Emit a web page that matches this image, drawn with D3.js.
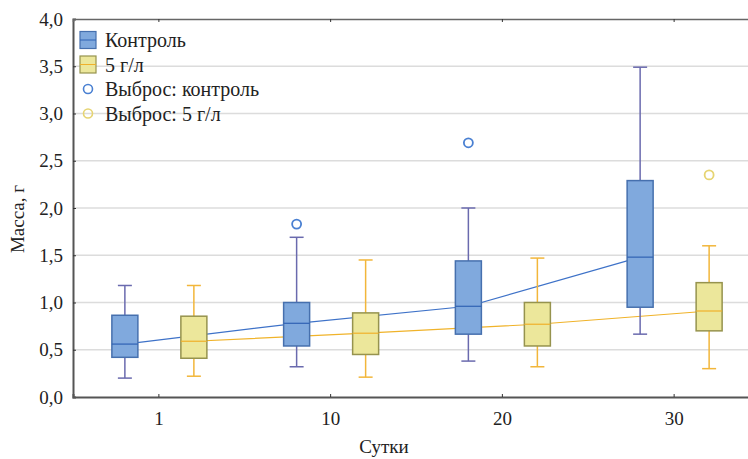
<!DOCTYPE html>
<html>
<head>
<meta charset="utf-8">
<script src="https://cdn.jsdelivr.net/npm/d3@7"></script>
<style>
  body { margin: 0; background: #fff; }
  svg text { font-family: 'Liberation Serif', 'Times New Roman', serif; }
</style>
</head>
<body>
<div id="chart"></div>
<script>
// сутки
const days = ["1", "10", "20", "30"];

// Контроль
const controlMin = [0.20, 0.32, 0.38, 0.665];
const controlQ1 = [0.42, 0.54, 0.665, 0.95];
const controlMed = [0.56, 0.78, 0.96, 1.48];
const controlQ3 = [0.865, 1.00, 1.44, 2.29];
const controlMax = [1.18, 1.69, 2.00, 3.49];
const controlOut = [null, 1.83, 2.69, null];

// 5 г/л
const doseMin = [0.22, 0.21, 0.32, 0.30];
const doseQ1 = [0.41, 0.45, 0.54, 0.70];
const doseMed = [0.59, 0.675, 0.77, 0.91];
const doseQ3 = [0.855, 0.89, 1.00, 1.21];
const doseMax = [1.18, 1.45, 1.47, 1.60];
const doseOut = [null, null, null, 2.35];

const yTicks = [0, 0.5, 1, 1.5, 2, 2.5, 3, 3.5, 4];

const width = 748;
const height = 459;
const margin = { top: 19, right: 0, bottom: 62, left: 73 };
const serif = "Liberation Serif";

const svg = d3.select("#chart").append("svg")
  .attr("width", width)
  .attr("height", height)
  .style("display", "block");

const x = d3.scaleBand()
  .domain(days)
  .range([margin.left, 760]);

const y = d3.scaleLinear()
  .domain([0, 4])
  .range([height - margin.bottom, margin.top]);

const fmt = (d) => d3.format(".1f")(d).replace(".", ",");

// сетка
svg.append("g")
  .selectAll("line")
  .data(yTicks.slice(1, -1))
  .join("line")
  .attr("x1", margin.left)
  .attr("x2", width)
  .attr("y1", (d) => y(d))
  .attr("y2", (d) => y(d))
  .attr("stroke", "#dcdcdc")
  .attr("stroke-width", 1.5);

const series = [
  {
    name: "Контроль", offset: -34,
    min: controlMin, q1: controlQ1, med: controlMed, q3: controlQ3, max: controlMax, out: controlOut,
    fill: "#80a9dd", stroke: "#4670ae", whisker: "#6a6aae", medLine: "#2f62b4", line: "#3e72c8", outlier: "#4a80d2"
  },
  {
    name: "5 г/л", offset: 35,
    min: doseMin, q1: doseQ1, med: doseMed, q3: doseQ3, max: doseMax, out: doseOut,
    fill: "#ece79b", stroke: "#96934e", whisker: "#f2b63a", medLine: "#f0b02a", line: "#f0b32a", outlier: "#e6d472"
  }
];

const boxW = 26;
const capW = 14;

series.forEach((s) => {
  s.cx = (i) => x(days[i]) + x.bandwidth() / 2 + s.offset;
});

// линии медиан (под ящиками)
series.forEach((s) => {
  const line = d3.line()
    .x((d, i) => s.cx(i))
    .y((d) => y(d));
  svg.append("path")
    .attr("d", line(s.med))
    .attr("fill", "none")
    .attr("stroke", s.line)
    .attr("stroke-width", 1.2);
});

series.forEach((s) => {
  const cx = s.cx;
  const g = svg.append("g");
  const idx = d3.range(days.length);

  // усы
  g.selectAll(".wl").data(idx).join("line")
    .attr("x1", cx).attr("x2", cx)
    .attr("y1", (i) => y(s.max[i])).attr("y2", (i) => y(s.min[i]))
    .attr("stroke", s.whisker).attr("stroke-width", 1.5);
  g.selectAll(".cap-hi").data(idx).join("line")
    .attr("x1", (i) => cx(i) - capW / 2).attr("x2", (i) => cx(i) + capW / 2)
    .attr("y1", (i) => y(s.max[i])).attr("y2", (i) => y(s.max[i]))
    .attr("stroke", s.whisker).attr("stroke-width", 1.5);
  g.selectAll(".cap-lo").data(idx).join("line")
    .attr("x1", (i) => cx(i) - capW / 2).attr("x2", (i) => cx(i) + capW / 2)
    .attr("y1", (i) => y(s.min[i])).attr("y2", (i) => y(s.min[i]))
    .attr("stroke", s.whisker).attr("stroke-width", 1.5);

  // ящики
  g.selectAll("rect").data(idx).join("rect")
    .attr("x", (i) => cx(i) - boxW / 2)
    .attr("width", boxW)
    .attr("y", (i) => y(s.q3[i]))
    .attr("height", (i) => y(s.q1[i]) - y(s.q3[i]))
    .attr("fill", s.fill)
    .attr("stroke", s.stroke)
    .attr("stroke-width", 1.5);

  // медианы
  g.selectAll(".med").data(idx).join("line")
    .attr("x1", (i) => cx(i) - boxW / 2).attr("x2", (i) => cx(i) + boxW / 2)
    .attr("y1", (i) => y(s.med[i])).attr("y2", (i) => y(s.med[i]))
    .attr("stroke", s.medLine).attr("stroke-width", 1.2);

  // выбросы
  g.selectAll("circle").data(idx.filter((i) => s.out[i] != null)).join("circle")
    .attr("cx", cx).attr("cy", (i) => y(s.out[i]))
    .attr("r", 4.5)
    .attr("fill", "none")
    .attr("stroke", s.outlier)
    .attr("stroke-width", 1.8);
});

// оси
const yAxis = svg.append("g")
  .attr("transform", `translate(${margin.left},0)`)
  .call(d3.axisRight(y).tickValues(yTicks).tickSize(3).tickFormat(""));
yAxis.select(".domain").attr("stroke", "#555").attr("stroke-width", 2);
yAxis.selectAll(".tick line").attr("stroke", "#333");

svg.append("g").selectAll("text")
  .data(yTicks)
  .join("text")
  .attr("x", margin.left - 10)
  .attr("y", (d) => y(d))
  .attr("dy", "0.35em")
  .attr("text-anchor", "end")
  .attr("font-family", serif)
  .attr("font-size", 19)
  .attr("fill", "#222")
  .text(fmt);

const xAxis = svg.append("g")
  .attr("transform", `translate(0,${height - margin.bottom})`)
  .call(d3.axisTop(x).tickSize(3).tickFormat(""));
xAxis.select(".domain").attr("stroke", "#555").attr("stroke-width", 2);
xAxis.selectAll(".tick line").attr("stroke", "#333");

const xTop = svg.append("g")
  .attr("transform", `translate(0,${margin.top})`)
  .call(d3.axisBottom(x).tickSize(3).tickFormat(""));
xTop.select(".domain").attr("stroke", "#666").attr("stroke-width", 1.5);
xTop.selectAll(".tick line").attr("stroke", "#333");

svg.append("g").selectAll("text")
  .data(days)
  .join("text")
  .attr("x", (d) => x(d) + x.bandwidth() / 2)
  .attr("y", 425)
  .attr("text-anchor", "middle")
  .attr("font-family", serif)
  .attr("font-size", 19)
  .attr("fill", "#222")
  .text((d) => d);

// подписи осей
svg.append("text")
  .attr("transform", "translate(24,219) rotate(-90)")
  .attr("text-anchor", "middle")
  .attr("font-family", serif)
  .attr("font-size", 19)
  .attr("fill", "#222")
  .text("Масса, г");

svg.append("text")
  .attr("x", 384)
  .attr("y", 453)
  .attr("text-anchor", "middle")
  .attr("font-family", serif)
  .attr("font-size", 19)
  .attr("fill", "#222")
  .text("Сутки");

// легенда
const legend = svg.append("g");
const rows = [
  { label: "Контроль", type: "box", s: series[0] },
  { label: "5 г/л", type: "box", s: series[1] },
  { label: "Выброс: контроль", type: "out", s: series[0] },
  { label: "Выброс: 5 г/л", type: "out", s: series[1] }
];
rows.forEach((r, i) => {
  const cy = 40 + i * 24.5;
  if (r.type === "box") {
    legend.append("rect")
      .attr("x", 80).attr("y", cy - 8.5)
      .attr("width", 16).attr("height", 17)
      .attr("fill", r.s.fill).attr("stroke", r.s.stroke).attr("stroke-width", 1.2);
    legend.append("line")
      .attr("x1", 80).attr("x2", 96).attr("y1", cy).attr("y2", cy)
      .attr("stroke", r.s.medLine).attr("stroke-width", 1);
  } else {
    legend.append("circle")
      .attr("cx", 88).attr("cy", cy).attr("r", 4.5)
      .attr("fill", "none").attr("stroke", r.s.outlier).attr("stroke-width", 1.6);
  }
  legend.append("text")
    .attr("x", 105).attr("y", cy)
    .attr("dy", "0.35em")
    .attr("font-family", serif)
    .attr("font-size", 20)
    .attr("fill", "#222")
    .text(r.label);
});
</script>
</body>
</html>
